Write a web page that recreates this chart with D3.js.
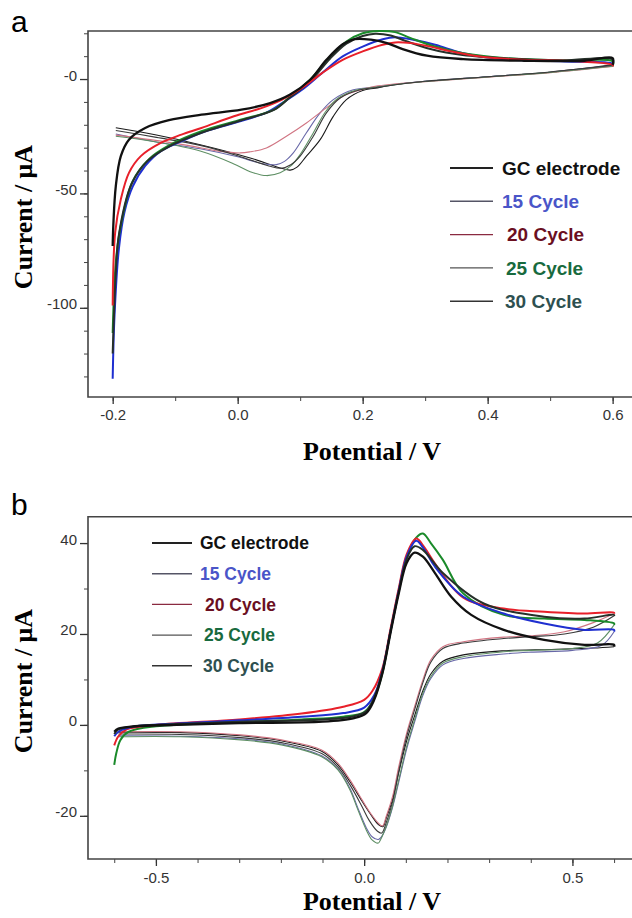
<!DOCTYPE html>
<html>
<head>
<meta charset="utf-8">
<script src="https://cdn.jsdelivr.net/npm/d3@7"></script>
<style>
  body { margin: 0; background: #fff; }
  svg { display: block; }
</style>
</head>
<body>
<svg id="svg"></svg>
<script>
// ---------------------------------------------------------------------------
// data: [potential (V), current (uA)]

var seriesNames = ["GC electrode", "15 Cycle", "20 Cycle", "25 Cycle", "30 Cycle"];

// panel a, forward (anodic) sweeps
var aFwdGC = [[-0.2,-73],[-0.199,-64],[-0.195,-46.8],[-0.187,-33.7],[-0.174,-26.5],[-0.148,-21.4],[-0.110,-18],[-0.058,-15.6],[0.006,-13.4],[0.052,-10.5],[0.084,-6.8],[0.116,-0.3],[0.142,8.4],[0.168,15.2],[0.187,17.4],[0.213,17.2],[0.239,15.7],[0.264,13.1],[0.303,10.2],[0.361,8.7],[0.458,8],[0.555,8],[0.6,9.2]];
var aFwd15 = [[-0.2,-131],[-0.197,-103],[-0.190,-74],[-0.181,-58],[-0.168,-47],[-0.148,-38],[-0.123,-31.5],[-0.090,-27.2],[-0.058,-23.5],[-0.006,-19.2],[0.045,-14.8],[0.071,-10.5],[0.103,-4.7],[0.135,2.6],[0.168,9.9],[0.2,14.2],[0.232,17.4],[0.252,18.3],[0.277,17.4],[0.316,15],[0.361,11.3],[0.426,8.7],[0.523,7.7],[0.6,6.7]];
var aFwd20 = [[-0.2,-99],[-0.196,-67],[-0.187,-52.6],[-0.174,-41],[-0.155,-33.7],[-0.123,-27.9],[-0.090,-24.3],[-0.058,-21.4],[-0.006,-16.3],[0.039,-12.6],[0.071,-9],[0.103,-3.9],[0.135,2.6],[0.168,8.4],[0.2,12.1],[0.232,15],[0.252,16],[0.277,15.7],[0.303,14.5],[0.342,12.1],[0.394,9.6],[0.458,8.4],[0.555,7.6],[0.6,6.2]];
var aFwd25 = [[-0.2,-111],[-0.195,-80],[-0.187,-64],[-0.168,-44.6],[-0.142,-35],[-0.110,-29],[-0.058,-22.8],[0.006,-17.7],[0.058,-13.4],[0.084,-7.6],[0.116,-0.3],[0.148,9.9],[0.174,16.4],[0.2,20],[0.226,21],[0.252,20.5],[0.277,17.9],[0.316,14.2],[0.361,11.3],[0.426,9.2],[0.523,8.1],[0.6,7.7]];
var aFwd30 = [[-0.2,-120],[-0.195,-85],[-0.19,-68],[-0.17,-46],[-0.145,-36],[-0.11,-29.5],[-0.058,-23.5],[0.006,-18],[0.058,-13.5],[0.084,-8],[0.116,-1],[0.148,9],[0.174,15.5],[0.2,18.8],[0.22,19.8],[0.245,19],[0.27,16.5],[0.31,13],[0.36,10.5],[0.43,9],[0.52,8.2],[0.6,8.5]];

// panel a, reverse (cathodic) sweeps
var aRevGC = [[0.6,6.2],[0.5,3.0],[0.4,1.0],[0.3,-1.0],[0.25,-2.5],[0.22,-4.0],[0.2,-5.0],[0.174,-9],[0.153,-16.3],[0.132,-26.5],[0.110,-33.7],[0.095,-38.5],[0.084,-39.8],[0.07,-39],[0.02,-34.5],[-0.06,-28.7],[-0.13,-24.5],[-0.195,-21.3]];
var aRev15 = [[0.6,5.8],[0.5,3.0],[0.4,1.0],[0.3,-1.0],[0.25,-2.4],[0.22,-3.5],[0.185,-4.7],[0.153,-9],[0.132,-14.8],[0.110,-23.5],[0.089,-32.3],[0.075,-36],[0.062,-37.4],[0.04,-37],[0.0,-34],[-0.06,-30.5],[-0.13,-27.5],[-0.195,-24]];
var aRev20 = [[0.6,5.5],[0.5,2.8],[0.4,0.8],[0.3,-1.2],[0.25,-2.2],[0.22,-3.2],[0.174,-6.8],[0.142,-12.6],[0.110,-19.2],[0.078,-25],[0.046,-30.1],[0.02,-31.8],[0.004,-32.3],[-0.03,-31.5],[-0.08,-29],[-0.14,-26.5],[-0.195,-24.5]];
var aRev25 = [[0.6,5.6],[0.5,2.9],[0.4,0.9],[0.3,-1.1],[0.25,-2.5],[0.22,-3.6],[0.19,-4.8],[0.16,-8.5],[0.14,-14.5],[0.12,-24],[0.1,-33],[0.085,-38],[0.068,-41],[0.046,-42.2],[0.02,-40.5],[-0.007,-37],[-0.06,-31.5],[-0.13,-27.5],[-0.195,-25]];
var aRev30 = [[0.6,6.0],[0.5,3.1],[0.4,1.0],[0.3,-1.0],[0.25,-2.6],[0.22,-3.8],[0.196,-4.7],[0.164,-8.3],[0.142,-14.8],[0.121,-25],[0.1,-33.7],[0.085,-37.5],[0.07,-39],[0.05,-38],[0.0,-33.5],[-0.06,-29],[-0.13,-25.5],[-0.195,-22.5]];

// panel b, forward sweeps
var bFwdGC = [[-0.6,-1.5],[-0.59,-0.8],[-0.55,-0.3],[-0.45,0],[-0.3,0.4],[-0.1,0.7],[-0.024,1.5],[0.005,2.6],[0.024,5.5],[0.044,11.4],[0.063,20.1],[0.083,28.9],[0.102,35.6],[0.121,37.9],[0.141,37],[0.170,33.4],[0.209,28.2],[0.257,24.2],[0.335,20.9],[0.432,18.7],[0.529,17.6],[0.6,17.6]];
var bFwd15 = [[-0.6,-2.5],[-0.59,-1.5],[-0.55,-0.3],[-0.45,0.3],[-0.3,1],[-0.15,1.8],[-0.05,2.6],[0,3.8],[0.024,6.5],[0.044,12],[0.063,20.5],[0.083,29.5],[0.102,37],[0.125,40.5],[0.145,38.5],[0.170,34.8],[0.238,28.2],[0.335,24.5],[0.432,22.3],[0.529,20.9],[0.6,20.9]];
var bFwd20 = [[-0.6,-4.5],[-0.59,-2.5],[-0.57,-1],[-0.5,0],[-0.3,1.2],[-0.15,2.5],[-0.05,4],[0,5.5],[0.02,7.5],[0.044,12.5],[0.063,21],[0.083,30],[0.102,37.5],[0.125,41],[0.145,39],[0.170,35.5],[0.238,28],[0.335,25.6],[0.432,24.9],[0.529,24.5],[0.6,24.7]];
var bFwd25 = [[-0.6,-8.8],[-0.595,-6.2],[-0.585,-3.3],[-0.565,-1.5],[-0.5,-0.3],[-0.3,0.6],[-0.15,1.2],[-0.05,1.8],[0,2.8],[0.024,5.8],[0.044,11.5],[0.063,20.5],[0.083,29.5],[0.102,37],[0.125,41.2],[0.141,42.1],[0.160,40],[0.189,36.3],[0.238,28.9],[0.335,24.2],[0.432,23.4],[0.529,23.1],[0.6,22.3]];
var bFwd30 = [[-0.6,-2],[-0.59,-1],[-0.55,-0.3],[-0.45,0.2],[-0.3,0.7],[-0.1,1.2],[-0.03,1.8],[0.005,3],[0.024,6],[0.044,11.8],[0.063,20.5],[0.083,29.3],[0.102,36.5],[0.121,39.3],[0.141,38.5],[0.189,33.4],[0.287,26.7],[0.432,23.8],[0.529,23.4],[0.6,24.2]];

// panel b, reverse sweeps
var bRevGC = [[0.6,17.2],[0.55,16.9],[0.45,16.6],[0.335,16.3],[0.238,15.4],[0.189,14],[0.160,11.2],[0.141,7.5],[0.121,2],[0.102,-3.5],[0.083,-10.5],[0.068,-16.5],[0.053,-20.5],[0.045,-22.4],[0.035,-22],[0.015,-19.6],[-0.005,-16.8],[-0.034,-12.5],[-0.063,-8.8],[-0.102,-5.8],[-0.199,-3.5],[-0.296,-2.4],[-0.442,-1.7],[-0.59,-1.6]];
var bRev15 = [[0.6,20.5],[0.57,17.5],[0.5,16.4],[0.4,16],[0.335,15.6],[0.238,14.6],[0.189,13.2],[0.160,10.2],[0.141,6.5],[0.121,0.6],[0.102,-5.3],[0.083,-12.6],[0.068,-18.2],[0.053,-22.5],[0.04,-24.8],[0.034,-25.2],[0.019,-24.6],[0.005,-22.6],[-0.015,-18.3],[-0.034,-14],[-0.063,-9.7],[-0.102,-6.8],[-0.199,-4.2],[-0.296,-3.1],[-0.442,-2.5],[-0.59,-2.4]];
var bRev20 = [[0.6,24.5],[0.55,22.5],[0.481,20.5],[0.4,19.6],[0.335,19.3],[0.238,18.3],[0.189,17.2],[0.160,14.3],[0.141,9.9],[0.121,4],[0.102,-1.8],[0.083,-9.2],[0.068,-15.8],[0.053,-20.1],[0.044,-22.2],[0.034,-21.6],[0.015,-19.4],[-0.005,-16.5],[-0.034,-12.1],[-0.063,-8.4],[-0.102,-5.5],[-0.199,-3.3],[-0.296,-2.2],[-0.442,-1.5],[-0.59,-1.5]];
var bRev25 = [[0.6,22],[0.56,18],[0.5,16.8],[0.4,16.4],[0.335,16.1],[0.238,15],[0.189,13.6],[0.160,10.6],[0.141,7],[0.121,1.1],[0.102,-4.8],[0.083,-12.1],[0.068,-17.9],[0.053,-22.3],[0.039,-25.3],[0.034,-26],[0.019,-25.3],[0.005,-23.1],[-0.015,-18.7],[-0.034,-14.3],[-0.063,-9.9],[-0.102,-7],[-0.199,-4.4],[-0.296,-3.3],[-0.442,-2.6],[-0.59,-2.6]];
var bRev30 = [[0.6,24],[0.55,21.5],[0.481,20],[0.4,19.4],[0.335,19],[0.238,18],[0.189,16.8],[0.160,13.8],[0.141,9.3],[0.121,3.3],[0.102,-2.6],[0.083,-10.2],[0.068,-17],[0.053,-21.5],[0.042,-23.8],[0.032,-23.4],[0.012,-21],[-0.005,-18],[-0.034,-13.2],[-0.063,-9.3],[-0.102,-6.3],[-0.199,-3.9],[-0.296,-2.8],[-0.442,-2.1],[-0.59,-2]];

// tick labels
var aXTicks = [-0.2, 0.0, 0.2, 0.4, 0.6];
var aXLabels = ["-0.2", "0.0", "0.2", "0.4", "0.6"];
var aYTicks = [0, -50, -100];
var aYLabels = ["-0", "-50", "-100"];
var bXTicks = [-0.5, 0.0, 0.5];
var bXLabels = ["-0.5", "0.0", "0.5"];
var bYTicks = [40, 20, 0, -20];
var bYLabels = ["40", "20", "0", "-20"];

//////////////////////////////////////////////////////////////////////////////

var width = 632, height = 918;

var fwdColors = ["#111111", "#1f2fd0", "#e8202a", "#1a8a2a", "#26302a"];
var revColors = ["#1a1a1a", "#6868a8", "#d07482", "#5e8f64", "#3a3a3a"];
var legLineColors = ["#222", "#556", "#8a2a40", "#555", "#333"];
var legTextColors = ["#111", "#4a55c8", "#6b0f1f", "#186a3e", "#2e5050"];
var legDx = [0, 0, 5, 4, 3];

var svg = d3.select("#svg").attr("width", width).attr("height", height);

function drawPanel(cfg)
{
    var x = d3.scaleLinear().domain(cfg.xDomain).range([cfg.left, cfg.right]);
    var y = d3.scaleLinear().domain(cfg.yDomain).range([cfg.bottom, cfg.top]);
    var g = svg.append("g");

    // minor ticks
    g.append("g")
        .attr("transform", "translate(0," + cfg.bottom + ")")
        .call(d3.axisBottom(x).tickValues(cfg.xMinor).tickSize(4).tickFormat(""))
        .call(function(s) { s.select(".domain").remove(); s.selectAll("line").attr("stroke", "#444"); });
    g.append("g")
        .attr("transform", "translate(" + cfg.left + ",0)")
        .call(d3.axisLeft(y).tickValues(cfg.yMinor).tickSize(4).tickFormat(""))
        .call(function(s) { s.select(".domain").remove(); s.selectAll("line").attr("stroke", "#444"); });

    // major ticks + labels
    g.append("g")
        .attr("transform", "translate(0," + cfg.bottom + ")")
        .call(d3.axisBottom(x).tickValues(cfg.xTicks).tickSize(7).tickPadding(cfg.xPad)
            .tickFormat(function(d, i) { return cfg.xLabels[i]; }))
        .call(function(s) {
            s.select(".domain").remove();
            s.selectAll("line").attr("stroke", "#333").attr("stroke-width", 1.3);
            s.selectAll("text").attr("fill", "#333").style("font", "15px 'Liberation Sans', Arial, sans-serif");
        });
    g.append("g")
        .attr("transform", "translate(" + cfg.left + ",0)")
        .call(d3.axisLeft(y).tickValues(cfg.yTicks).tickSize(8).tickPadding(3)
            .tickFormat(function(d, i) { return cfg.yLabels[i]; }))
        .call(function(s) {
            s.select(".domain").remove();
            s.selectAll("line").attr("stroke", "#333").attr("stroke-width", 1.3);
            s.selectAll("text").attr("fill", "#333").attr("dy", 0).attr("y", 1)
                .style("font", "15px 'Liberation Sans', Arial, sans-serif");
        });

    // frame (left, bottom, top; right side runs off the picture)
    g.append("path")
        .attr("d", "M" + width + "," + cfg.top + "H" + cfg.left + "V" + cfg.bottom + "H" + width)
        .attr("fill", "none").attr("stroke", "#444").attr("stroke-width", 1.6);

    var line = d3.line()
        .x(function(d) { return x(d[0]); })
        .y(function(d) { return y(d[1]); })
        .curve(d3.curveCatmullRom.alpha(0.5));

    var plot = g.append("g");
    cfg.rev.forEach(function(s, i) {
        plot.append("path").attr("d", line(s)).attr("fill", "none")
            .attr("stroke", revColors[i]).attr("stroke-width", 1.1);
    });
    cfg.fwdOrder.forEach(function(i) {
        var s = cfg.fwd[i];
        // close the loop at the switching potential
        var pts = s.concat([cfg.rev[i][0]]);
        plot.append("path").attr("d", line(pts)).attr("fill", "none")
            .attr("stroke", fwdColors[i]).attr("stroke-width", i === 0 ? 2.3 : 2);
    });

    // legend
    var leg = g.append("g");
    seriesNames.forEach(function(name, i) {
        var ly = cfg.legY + i * cfg.legStep;
        leg.append("line")
            .attr("x1", cfg.legX1).attr("x2", cfg.legX2).attr("y1", ly).attr("y2", ly)
            .attr("stroke", legLineColors[i]).attr("stroke-width", i === 0 ? 1.8 : 1.4);
        leg.append("text")
            .attr("x", cfg.legTx + legDx[i]).attr("y", ly).attr("dy", "0.36em")
            .attr("fill", legTextColors[i])
            .style("font", "bold " + cfg.legFont + "px 'Liberation Sans', Arial, sans-serif")
            .text(name);
    });

    // titles
    g.append("text")
        .attr("x", 372).attr("y", cfg.xTitleY)
        .attr("text-anchor", "middle")
        .style("font", "bold 26px 'Liberation Serif', 'Times New Roman', serif")
        .text("Potential / V");
    g.append("text")
        .attr("transform", "translate(32," + cfg.yTitleY + ") rotate(-90)")
        .attr("text-anchor", "middle")
        .style("font", "bold 26px 'Liberation Serif', 'Times New Roman', serif")
        .text("Current / \u03bcA");
    g.append("text")
        .attr("x", 11).attr("y", cfg.letterY)
        .style("font", "30px 'Liberation Sans', Arial, sans-serif")
        .text(cfg.letter);
}

drawPanel({
    letter: "a", letterY: 32,
    left: 88, right: 632, top: 31, bottom: 397,
    xDomain: [-0.2395, 0.631], yDomain: [-139, 21],
    xTicks: aXTicks, xLabels: aXLabels, yTicks: aYTicks, yLabels: aYLabels,
    xMinor: d3.range(-2, 7).map(function(k) { return k / 10; }),
    yMinor: d3.range(-13, 3).map(function(k) { return k * 10; }),
    xPad: 5,
    fwd: [aFwdGC, aFwd15, aFwd20, aFwd25, aFwd30],
    rev: [aRevGC, aRev15, aRev20, aRev25, aRev30],
    fwdOrder: [1, 3, 4, 2, 0],
    legX1: 450, legX2: 493, legTx: 502, legY: 168, legStep: 33.3, legFont: 19,
    xTitleY: 460, yTitleY: 217
});

drawPanel({
    letter: "b", letterY: 515,
    left: 88, right: 632, top: 516.7, bottom: 859,
    xDomain: [-0.663, 0.643], yDomain: [-29.5, 45.8],
    xTicks: bXTicks, xLabels: bXLabels, yTicks: bYTicks, yLabels: bYLabels,
    xMinor: d3.range(-6, 7).map(function(k) { return k / 10; }),
    yMinor: d3.range(-2, 5).map(function(k) { return k * 10; }),
    xPad: 6,
    fwd: [bFwdGC, bFwd15, bFwd20, bFwd25, bFwd30],
    rev: [bRevGC, bRev15, bRev20, bRev25, bRev30],
    fwdOrder: [3, 2, 1, 4, 0],
    legX1: 152, legX2: 192, legTx: 200, legY: 543, legStep: 30.7, legFont: 17.5,
    xTitleY: 910, yTitleY: 681
});
</script>
</body>
</html>
